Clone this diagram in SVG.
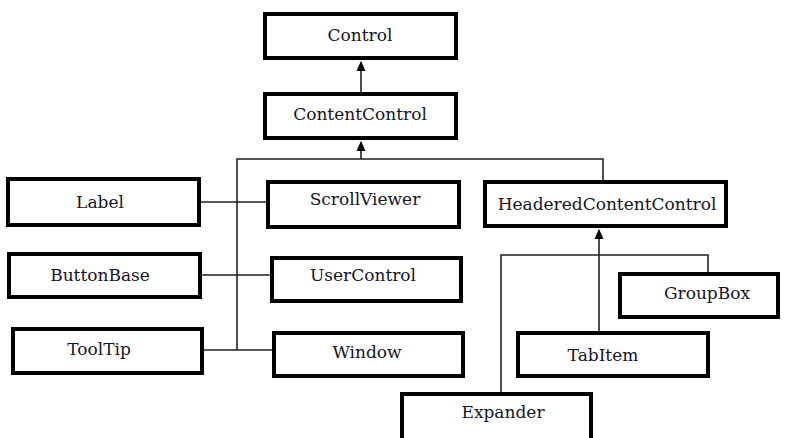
<svg xmlns="http://www.w3.org/2000/svg" width="805" height="438" viewBox="0 0 805 438">
<style>
.box{fill:#fff;stroke:#000;stroke-width:4}
.lbl{font-family:"DejaVu Serif","Liberation Serif",serif;font-size:17px;fill:#141428;text-anchor:middle}
.con{stroke:#222;stroke-width:1.6;fill:none}
</style>
<defs>
<marker id="arr" markerUnits="userSpaceOnUse" markerWidth="10" markerHeight="10" viewBox="0 0 10 10" refX="9" refY="5" orient="auto">
<path d="M0,0.5 L10,5 L0,9.5 Z" fill="#000"/>
</marker>
</defs>
<rect width="805" height="438" fill="#fff"/>
<g id="connectors">
<line class="con" x1="361" y1="92" x2="361" y2="62" marker-end="url(#arr)"/>
<line class="con" x1="361" y1="159" x2="361" y2="142" marker-end="url(#arr)"/>
<polyline class="con" points="237,350 237,159 603,159 603,180"/>
<line class="con" x1="201" y1="202" x2="266" y2="202"/>
<line class="con" x1="202" y1="275" x2="270" y2="275"/>
<line class="con" x1="204" y1="350" x2="272" y2="350"/>
<line class="con" x1="599" y1="331" x2="599" y2="230" marker-end="url(#arr)"/>
<polyline class="con" points="501,392 501,255 708,255 708,272"/>
</g>
<g id="control"><rect class="box" x="265" y="14" width="191" height="44"/><text class="lbl" x="360" y="41">Control</text></g>
<g id="contentcontrol"><rect class="box" x="265" y="94" width="191" height="44"/><text class="lbl" x="360" y="120">ContentControl</text></g>
<g id="label"><rect class="box" x="8" y="179" width="191" height="46"/><text class="lbl" x="100" y="208">Label</text></g>
<g id="scrollviewer"><rect class="box" x="268" y="182" width="191" height="45"/><text class="lbl" x="365" y="205">ScrollViewer</text></g>
<g id="headeredcontentcontrol"><rect class="box" x="485" y="182" width="241" height="44"/><text class="lbl" x="607" y="210">HeaderedContentControl</text></g>
<g id="buttonbase"><rect class="box" x="9" y="254" width="191" height="43"/><text class="lbl" x="100" y="281">ButtonBase</text></g>
<g id="usercontrol"><rect class="box" x="272" y="258" width="189" height="43"/><text class="lbl" x="363" y="281">UserControl</text></g>
<g id="tooltip"><rect class="box" x="13" y="329" width="189" height="44"/><text class="lbl" x="99" y="355">ToolTip</text></g>
<g id="window"><rect class="box" x="274" y="333" width="189" height="43"/><text class="lbl" x="367" y="358">Window</text></g>
<g id="groupbox"><rect class="box" x="620" y="274" width="158" height="43"/><text class="lbl" x="707" y="299">GroupBox</text></g>
<g id="tabitem"><rect class="box" x="518" y="333" width="190" height="43"/><text class="lbl" x="603" y="361">TabItem</text></g>
<g id="expander"><rect class="box" x="402" y="394" width="189" height="52"/><text class="lbl" x="503" y="418">Expander</text></g>
</svg>
